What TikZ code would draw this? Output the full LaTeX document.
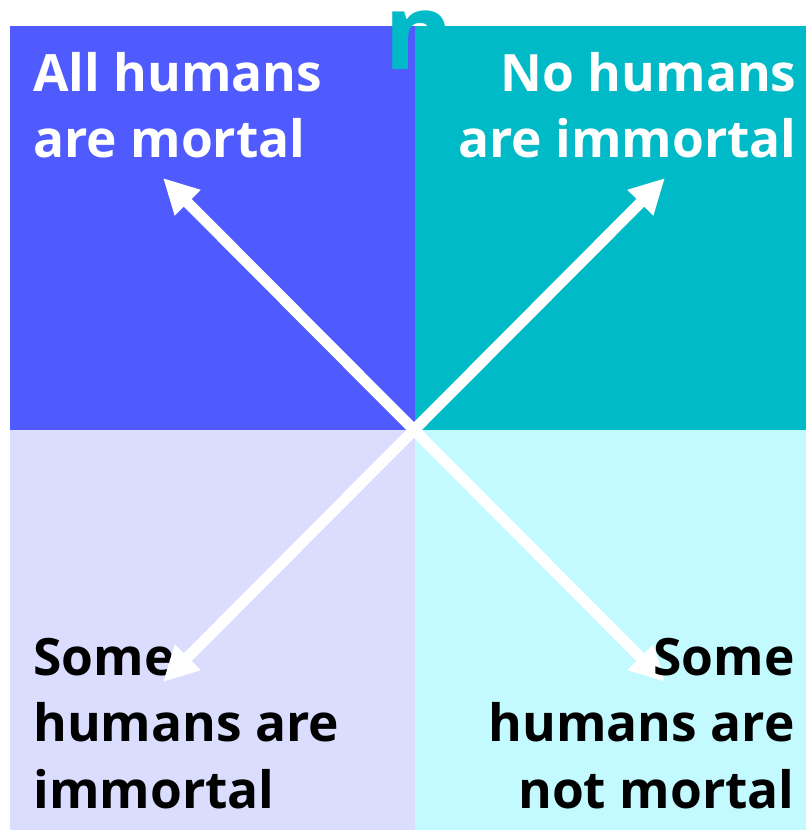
\documentclass[tikz,border=0pt]{standalone}
\usepackage{fontspec}
\setmainfont{Open Sans}
\usepackage{xcolor}
\usetikzlibrary{arrows.meta}
\definecolor{quadblue}{RGB}{79,91,255}
\definecolor{quadteal}{RGB}{0,186,199}
\definecolor{quadlav}{RGB}{219,221,255}
\definecolor{quadcyan}{RGB}{194,250,255}
\begin{document}
\begin{tikzpicture}[
  x=0.02cm, y=-0.02cm,
  quad/.style={rectangle, draw=none, inner sep=0pt, outer sep=0pt, anchor=north west},
  statement/.style={inner sep=0pt, font=\fontsize{29.3}{37.6}\selectfont\bfseries},
  bigletter/.style={inner sep=0pt, text=quadteal, font=\fontsize{60}{64}\selectfont\bfseries},
  crossarrow/.style={{Triangle[length=0.7cm, width=0.68cm]}-{Triangle[length=0.7cm, width=0.68cm]}, line width=0.22cm, white}
]
\useasboundingbox (0,0) rectangle (806,830);

\node[quad, fill=quadblue, minimum width=8.1cm, minimum height=8.08cm] (qall) at (10,26) {};
\node[quad, fill=quadteal, minimum width=7.82cm, minimum height=8.08cm] (qno) at (415,26) {};
\node[quad, fill=quadlav, minimum width=8.1cm, minimum height=8cm] (qsome) at (10,430) {};
\node[quad, fill=quadcyan, minimum width=7.82cm, minimum height=8cm] (qsomenot) at (415,430) {};

\node[bigletter, anchor=base west] (cutn) at (384,70) {n};

\node[statement, text=white, anchor=base west, align=left] (allmortal) at (33,158) {All humans\\are mortal};
\node[statement, text=white, anchor=base east, align=right] (noimmortal) at (797,158) {No humans\\are immortal};
\node[statement, text=black, anchor=base west, align=left] (someimmortal) at (33,808) {Some\\humans are\\immortal};

\coordinate (tipall) at (163,178);
\coordinate (tipno) at (665,178);
\coordinate (tipsome) at (163,682);
\coordinate (tipsomenot) at (665,682);

\draw[crossarrow] (tipall) -- (tipsomenot);
\draw[crossarrow] (tipno) -- (tipsome);

\node[statement, text=black, anchor=base east, align=right] (somenotmortal) at (795,808) {Some\\humans are\\not mortal};
\end{tikzpicture}
\end{document}
